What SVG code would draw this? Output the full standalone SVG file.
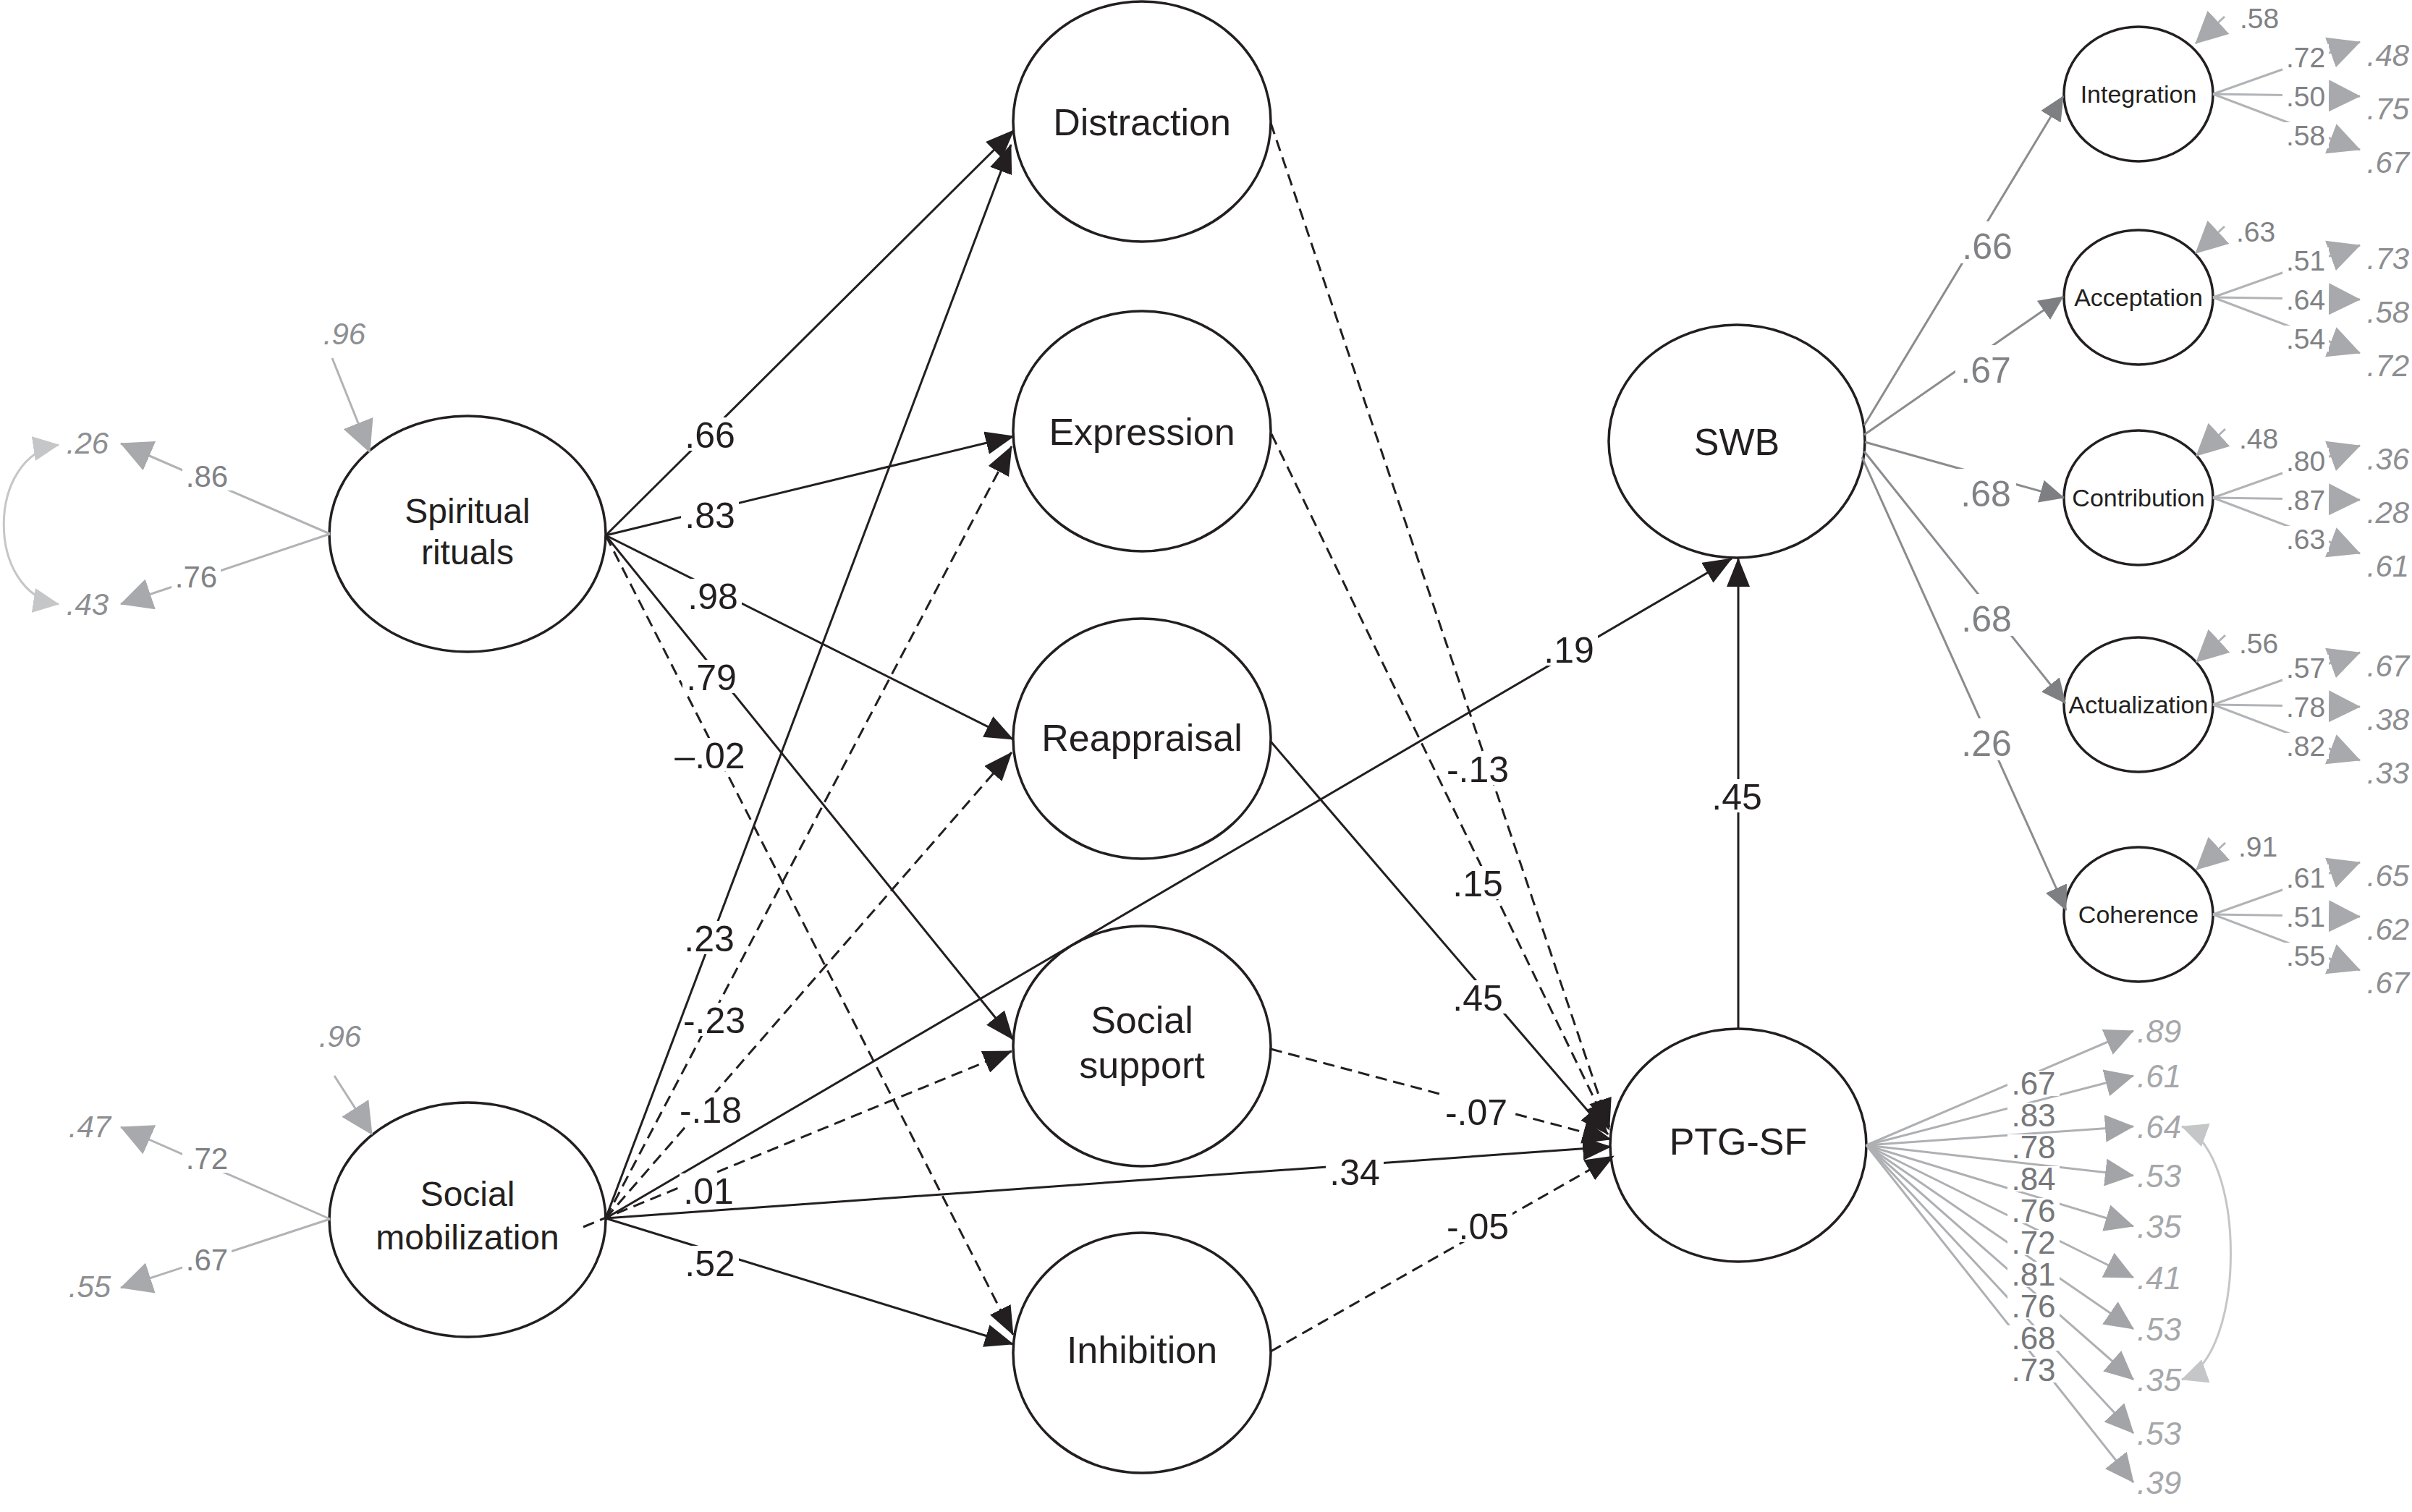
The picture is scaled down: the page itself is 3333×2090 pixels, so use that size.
<svg xmlns="http://www.w3.org/2000/svg" width="3333" height="2090" viewBox="0 0 3333 2090">
<defs>
<style>
text{font-family:'Liberation Sans',Arial,Helvetica,sans-serif}
.nd ellipse{fill:#fff;stroke:#231f20;stroke-width:3.5}
.nl{font-size:52px;fill:#231f20;text-anchor:middle}
.nm{font-size:48px;fill:#231f20;text-anchor:middle}
.fl{font-size:34px;fill:#231f20;text-anchor:middle}
.e{fill:none;stroke:#231f20;stroke-width:3;marker-end:url(#ahb)}
.d{stroke-dasharray:16 9}
.bg{fill:#fff}
.lb{font-size:50px;fill:#231f20;text-anchor:middle}
.gl{fill:none;stroke:#b1b3b6;stroke-width:3;marker-end:url(#ahg)}
.gs{fill:none;stroke:#8a8c8f;stroke-width:3;marker-end:url(#ahd)}
.gp{fill:none;stroke:#aeb0b3;stroke-width:3;marker-end:url(#ahp)}
.gc{fill:none;stroke:#c4c6c8;stroke-width:3;marker-start:url(#ahc);marker-end:url(#ahc)}
.tl{font-size:42px;fill:#808285;text-anchor:middle}
.ts{font-size:50px;fill:#808285;text-anchor:middle}
.tf{font-size:39px;fill:#808285;text-anchor:middle}
.tp{font-size:44px;fill:#77787b;text-anchor:middle}
.it{font-style:italic;fill:#8d8f92}
.ip{font-size:44px;font-style:italic;fill:#a5a7aa}
</style>
<marker id="ahb" markerUnits="userSpaceOnUse" viewBox="0 0 40 32" markerWidth="40" markerHeight="32" refX="39" refY="16" orient="auto"><path d="M0,0L40,16L0,32z" fill="#231f20"/></marker>
<marker id="ahg" markerUnits="userSpaceOnUse" viewBox="0 0 44 44" markerWidth="44" markerHeight="44" refX="43" refY="22" orient="auto"><path d="M0,0L44,22L0,44z" fill="#a7a9ac"/></marker>
<marker id="ahd" markerUnits="userSpaceOnUse" viewBox="0 0 34 32" markerWidth="34" markerHeight="32" refX="33" refY="16" orient="auto"><path d="M0,0L34,16L0,32z" fill="#7d7f82"/></marker>
<marker id="ahp" markerUnits="userSpaceOnUse" viewBox="0 0 40 38" markerWidth="40" markerHeight="38" refX="39" refY="19" orient="auto"><path d="M0,0L40,19L0,38z" fill="#a2a4a7"/></marker>
<marker id="ahc" markerUnits="userSpaceOnUse" viewBox="0 0 36 34" markerWidth="36" markerHeight="34" refX="35" refY="17" orient="auto-start-reverse"><path d="M0,0L36,17L0,34z" fill="#c4c6c8"/></marker>
</defs>
<rect width="3333" height="2090" fill="#fff"/>

<g id="nodes" class="nd">
<g id="n-spiritual"><ellipse cx="646" cy="738" rx="191" ry="163"/><text class="nm" x="646" y="723">Spiritual</text><text class="nm" x="646" y="780">rituals</text></g>
<g id="n-social-mobilization"><ellipse cx="646" cy="1686" rx="191" ry="162"/><text class="nm" x="646" y="1667">Social</text><text class="nm" x="646" y="1727">mobilization</text></g>
<g id="n-distraction"><ellipse cx="1578" cy="168" rx="178" ry="166"/><text class="nl" x="1578" y="187">Distraction</text></g>
<g id="n-expression"><ellipse cx="1578" cy="596" rx="178" ry="166"/><text class="nl" x="1578" y="615">Expression</text></g>
<g id="n-reappraisal"><ellipse cx="1578" cy="1021" rx="178" ry="166"/><text class="nl" x="1578" y="1038">Reappraisal</text></g>
<g id="n-social-support"><ellipse cx="1578" cy="1446" rx="178" ry="166"/><text class="nl" x="1578" y="1428">Social</text><text class="nl" x="1578" y="1490">support</text></g>
<g id="n-inhibition"><ellipse cx="1578" cy="1870" rx="178" ry="166"/><text class="nl" x="1578" y="1884">Inhibition</text></g>
<g id="n-swb"><ellipse cx="2400" cy="610" rx="177" ry="161"/><text class="nl" x="2400" y="629">SWB</text></g>
<g id="n-ptgsf"><ellipse cx="2402" cy="1583" rx="177" ry="161"/><text class="nl" x="2402" y="1596">PTG-SF</text></g>
<g id="n-integration"><ellipse cx="2955" cy="130" rx="103" ry="93"/><text class="fl" x="2955" y="142">Integration</text></g>
<g id="n-acceptation"><ellipse cx="2955" cy="411" rx="103" ry="93"/><text class="fl" x="2955" y="423">Acceptation</text></g>
<g id="n-contribution"><ellipse cx="2955" cy="688" rx="103" ry="93"/><text class="fl" x="2955" y="700">Contribution</text></g>
<g id="n-actualization"><ellipse cx="2955" cy="974" rx="103" ry="93"/><text class="fl" x="2955" y="986">Actualization</text></g>
<g id="n-coherence"><ellipse cx="2955" cy="1264" rx="103" ry="93"/><text class="fl" x="2955" y="1276">Coherence</text></g>
</g>

<g id="connectors">
<path class="gl" d="M459,495L511,625"/>
<path class="gl" d="M456,738L167,613"/>
<path class="gl" d="M456,738L167,835"/>
<path class="gc" d="M81,615C-20,630 -20,820 81,835"/>
<path class="gl" d="M462,1487L514,1568"/>
<path class="gl" d="M456,1685L167,1558"/>
<path class="gl" d="M456,1685L167,1780"/>

<path class="e" d="M837,740L1401,180"/>
<path class="e" d="M837,740L1401,603"/>
<path class="e" d="M837,740L1400,1022"/>
<path class="e" d="M837,740L1400,1437"/>
<path class="e d" d="M837,740L1400,1845"/>
<path class="e" d="M837,1684L1397,200"/>
<path class="e d" d="M837,1684L1398,617"/>
<path class="e d" d="M837,1684L1398,1040"/>
<path class="e d" d="M806,1696L1398,1453"/>
<path class="e" d="M837,1684L2393,772"/>
<path class="e" d="M837,1684L2226,1585"/>
<path class="e" d="M837,1684L1400,1858"/>
<path class="e d" d="M1756,170L2224,1558"/>
<path class="e d" d="M1757,600L2224,1562"/>
<path class="e" d="M1756,1025L2222,1568"/>
<path class="e d" d="M1756,1450L2226,1575"/>
<path class="e d" d="M1756,1868L2230,1598"/>
<path class="e" d="M2402,1422L2402,772"/>

<path class="gs" d="M2576,588L2851,133"/>
<path class="gs" d="M2576,601L2851,410"/>
<path class="gs" d="M2577,611L2852,688"/>
<path class="gs" d="M2576,624L2854,972"/>
<path class="gs" d="M2573,632L2855,1258"/>

<path class="gl" d="M3074,23L3034,60"/>
<path class="gl" d="M3074,313L3034,350"/>
<path class="gl" d="M3075,593L3035,630"/>
<path class="gl" d="M3075,878L3035,915"/>
<path class="gl" d="M3075,1165L3035,1202"/>

<path class="gl" d="M3058,130L3261,58"/><path class="gl" d="M3058,130L3261,133"/><path class="gl" d="M3058,130L3261,207"/>
<path class="gl" d="M3058,411L3261,339"/><path class="gl" d="M3058,411L3261,414"/><path class="gl" d="M3058,411L3261,488"/>
<path class="gl" d="M3058,688L3261,616"/><path class="gl" d="M3058,688L3261,691"/><path class="gl" d="M3058,688L3261,765"/>
<path class="gl" d="M3058,974L3261,902"/><path class="gl" d="M3058,974L3261,977"/><path class="gl" d="M3058,974L3261,1051"/>
<path class="gl" d="M3058,1264L3261,1192"/><path class="gl" d="M3058,1264L3261,1267"/><path class="gl" d="M3058,1264L3261,1341"/>

<path class="gp" d="M2579,1583L2948,1425"/>
<path class="gp" d="M2579,1583L2948,1487"/>
<path class="gp" d="M2579,1583L2948,1557"/>
<path class="gp" d="M2579,1583L2948,1625"/>
<path class="gp" d="M2579,1583L2948,1695"/>
<path class="gp" d="M2579,1583L2948,1766"/>
<path class="gp" d="M2579,1583L2948,1837"/>
<path class="gp" d="M2579,1583L2948,1907"/>
<path class="gp" d="M2579,1583L2948,1981"/>
<path class="gp" d="M2579,1583L2948,2049"/>
<path class="gc" d="M3015,1557C3105,1590 3105,1875 3015,1907"/>

<g id="label-backgrounds" class="bg">
<rect x="941" y="577" width="80" height="46"/>
<rect x="941" y="688" width="80" height="46"/>
<rect x="945" y="800" width="80" height="46"/>
<rect x="943" y="912" width="80" height="46"/>
<rect x="928" y="1020" width="106" height="46"/>
<rect x="940" y="1273" width="80" height="46"/>
<rect x="952" y="1386" width="83" height="46"/>
<rect x="934" y="1510" width="96" height="46"/>
<rect x="939" y="1622" width="80" height="46"/>
<rect x="941" y="1722" width="80" height="46"/>
<rect x="2128" y="874" width="80" height="46"/>
<rect x="1994" y="1039" width="96" height="46"/>
<rect x="2002" y="1197" width="80" height="46"/>
<rect x="2002" y="1355" width="80" height="46"/>
<rect x="1992" y="1513" width="96" height="46"/>
<rect x="1832" y="1596" width="80" height="46"/>
<rect x="1994" y="1671" width="96" height="46"/>
<rect x="2360" y="1077" width="80" height="46"/>
<rect x="252" y="636" width="68" height="42"/>
<rect x="237" y="775" width="68" height="42"/>
<rect x="252" y="1579" width="68" height="42"/>
<rect x="252" y="1719" width="68" height="42"/>
<rect x="2704" y="306" width="84" height="58"/>
<rect x="2702" y="477" width="84" height="58"/>
<rect x="2702" y="648" width="84" height="58"/>
<rect x="2703" y="821" width="84" height="58"/>
<rect x="2703" y="993" width="84" height="58"/>
<rect x="3154" y="61" width="64" height="36"/>
<rect x="3154" y="115" width="64" height="36"/>
<rect x="3154" y="169" width="64" height="36"/>
<rect x="3154" y="342" width="64" height="36"/>
<rect x="3154" y="396" width="64" height="36"/>
<rect x="3154" y="450" width="64" height="36"/>
<rect x="3154" y="619" width="64" height="36"/>
<rect x="3154" y="673" width="64" height="36"/>
<rect x="3154" y="727" width="64" height="36"/>
<rect x="3154" y="905" width="64" height="36"/>
<rect x="3154" y="959" width="64" height="36"/>
<rect x="3154" y="1013" width="64" height="36"/>
<rect x="3154" y="1195" width="64" height="36"/>
<rect x="3154" y="1249" width="64" height="36"/>
<rect x="3154" y="1303" width="64" height="36"/>
<rect x="2774" y="1480" width="72" height="35"/>
<rect x="2774" y="1524" width="72" height="35"/>
<rect x="2774" y="1568" width="72" height="35"/>
<rect x="2774" y="1612" width="72" height="35"/>
<rect x="2774" y="1656" width="72" height="35"/>
<rect x="2774" y="1700" width="72" height="35"/>
<rect x="2774" y="1744" width="72" height="35"/>
<rect x="2774" y="1788" width="72" height="35"/>
<rect x="2774" y="1832" width="72" height="35"/>
<rect x="2774" y="1876" width="72" height="35"/>
</g>

<g id="path-labels" class="lb">
<text x="981" y="619">.66</text>
<text x="981" y="730">.83</text>
<text x="985" y="842">.98</text>
<text x="983" y="954">.79</text>
<text x="981" y="1062">–.02</text>
<text x="980" y="1315">.23</text>
<text x="987" y="1428">-.23</text>
<text x="982" y="1552">-.18</text>
<text x="979" y="1664">.01</text>
<text x="981" y="1764">.52</text>
<text x="2168" y="916">.19</text>
<text x="2042" y="1081">-.13</text>
<text x="2042" y="1239">.15</text>
<text x="2042" y="1397">.45</text>
<text x="2040" y="1555">-.07</text>
<text x="1872" y="1638">.34</text>
<text x="2042" y="1713">-.05</text>
<text x="2400" y="1119">.45</text>
</g>

<g id="left-labels" class="tl">
<text class="it" x="476" y="476">.96</text>
<text x="286" y="673">.86</text>
<text x="271" y="812">.76</text>
<text class="it" x="121" y="627">.26</text>
<text class="it" x="121" y="850">.43</text>
<text class="it" x="470" y="1447">.96</text>
<text x="286" y="1616">.72</text>
<text x="286" y="1756">.67</text>
<text class="it" x="124" y="1572">.47</text>
<text class="it" x="124" y="1793">.55</text>
</g>

<g id="swb-labels" class="ts">
<text x="2746" y="358">.66</text>
<text x="2744" y="529">.67</text>
<text x="2744" y="700">.68</text>
<text x="2745" y="873">.68</text>
<text x="2745" y="1045">.26</text>
</g>

<g id="factor-labels" class="tf">
<text x="3122" y="39">.58</text>
<text x="3117" y="334">.63</text>
<text x="3121" y="620">.48</text>
<text x="3121" y="903">.56</text>
<text x="3120" y="1184">.91</text>
<text x="3186" y="93">.72</text><text x="3186" y="147">.50</text><text x="3186" y="201">.58</text>
<text x="3186" y="374">.51</text><text x="3186" y="428">.64</text><text x="3186" y="482">.54</text>
<text x="3186" y="651">.80</text><text x="3186" y="705">.87</text><text x="3186" y="759">.63</text>
<text x="3186" y="937">.57</text><text x="3186" y="991">.78</text><text x="3186" y="1045">.82</text>
<text x="3186" y="1227">.61</text><text x="3186" y="1281">.51</text><text x="3186" y="1335">.55</text>
</g>
<g id="factor-residual-labels" class="tf it" style="font-size:42px">
<text x="3300" y="91">.48</text><text x="3300" y="165">.75</text><text x="3300" y="239">.67</text>
<text x="3300" y="372">.73</text><text x="3300" y="446">.58</text><text x="3300" y="520">.72</text>
<text x="3300" y="649">.36</text><text x="3300" y="723">.28</text><text x="3300" y="797">.61</text>
<text x="3300" y="935">.67</text><text x="3300" y="1009">.38</text><text x="3300" y="1083">.33</text>
<text x="3300" y="1225">.65</text><text x="3300" y="1299">.62</text><text x="3300" y="1373">.67</text>
</g>

<g id="ptg-labels" class="tp">
<text x="2810" y="1513">.67</text>
<text x="2810" y="1557">.83</text>
<text x="2810" y="1601">.78</text>
<text x="2810" y="1645">.84</text>
<text x="2810" y="1689">.76</text>
<text x="2810" y="1733">.72</text>
<text x="2810" y="1777">.81</text>
<text x="2810" y="1821">.76</text>
<text x="2810" y="1865">.68</text>
<text x="2810" y="1909">.73</text>
</g>
<g id="ptg-residual-labels" class="ip">
<text x="2953" y="1441">.89</text>
<text x="2953" y="1503">.61</text>
<text x="2953" y="1573">.64</text>
<text x="2953" y="1641">.53</text>
<text x="2953" y="1711">.35</text>
<text x="2953" y="1782">.41</text>
<text x="2953" y="1853">.53</text>
<text x="2953" y="1923">.35</text>
<text x="2953" y="1997">.53</text>
<text x="2953" y="2065">.39</text>
</g>
</g>
</svg>
